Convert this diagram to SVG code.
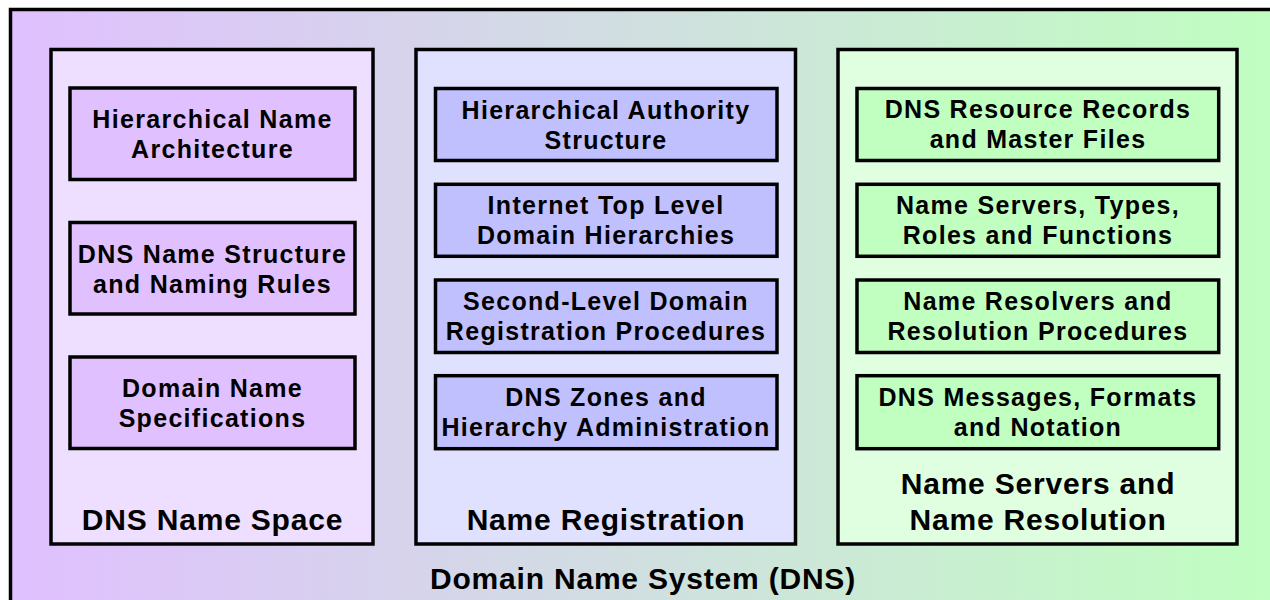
<svg xmlns="http://www.w3.org/2000/svg" width="1270" height="600" viewBox="0 0 1270 600">
  <defs>
    <linearGradient id="bg" x1="10" y1="0" x2="1290" y2="0" gradientUnits="userSpaceOnUse">
      <stop offset="0" stop-color="#e0c0ff"/>
      <stop offset="1" stop-color="#c0ffc0"/>
    </linearGradient>
    <style>
      .frame { stroke: #000; stroke-width: 3.5; }
      .box { stroke: #000; stroke-width: 3.5; }
      .c1 { fill: #eedeff; }
      .c2 { fill: #e0e0ff; }
      .c3 { fill: #e0ffe0; }
      .b1 { fill: #e0c0ff; }
      .b2 { fill: #c0c0ff; }
      .b3 { fill: #c0ffc0; }
      text { font-family: "Liberation Sans", Arial, Helvetica, sans-serif; font-weight: bold; fill: #000; text-anchor: middle; }
      .t { font-size: 25px; letter-spacing: 1.3px; }
      .h { font-size: 30px; letter-spacing: 0.8px; }
    </style>
  </defs>
  <rect x="0" y="0" width="1270" height="600" fill="#ffffff"/>
  <g id="dns">
    <rect x="10.5" y="9.5" width="1290" height="620" fill="url(#bg)" class="frame"/>
    <text class="h" x="643" y="589">Domain Name System (DNS)</text>
  </g>

  <g id="name-space">
    <rect x="51" y="49.5" width="322" height="494.5" class="frame c1"/>
    <text class="h" x="212.5" y="530">DNS Name Space</text>
  </g>
  <g id="hier-name-arch">
    <rect x="70" y="88" width="285" height="91.5" class="box b1"/>
    <text class="t" x="212.5" y="128">Hierarchical Name</text>
    <text class="t" x="212.5" y="158">Architecture</text>
  </g>
  <g id="name-structure">
    <rect x="70" y="222.5" width="285" height="91.5" class="box b1"/>
    <text class="t" x="212.5" y="262.5">DNS Name Structure</text>
    <text class="t" x="212.5" y="292.5">and Naming Rules</text>
  </g>
  <g id="domain-name-spec">
    <rect x="70" y="357" width="285" height="91.5" class="box b1"/>
    <text class="t" x="212.5" y="397">Domain Name</text>
    <text class="t" x="212.5" y="427">Specifications</text>
  </g>

  <g id="name-registration">
    <rect x="416" y="49.5" width="379.5" height="494.5" class="frame c2"/>
    <text class="h" x="606" y="530">Name Registration</text>
  </g>
  <g id="hier-authority">
    <rect x="435.5" y="88.5" width="341.5" height="72" class="box b2"/>
    <text class="t" x="606" y="118.5">Hierarchical Authority</text>
    <text class="t" x="606" y="148.5">Structure</text>
  </g>
  <g id="tld-hier">
    <rect x="435.5" y="184.3" width="341.5" height="72" class="box b2"/>
    <text class="t" x="606" y="214.3">Internet Top Level</text>
    <text class="t" x="606" y="244.3">Domain Hierarchies</text>
  </g>
  <g id="sld-reg">
    <rect x="435.5" y="280" width="341.5" height="72.5" class="box b2"/>
    <text class="t" x="606" y="310">Second-Level Domain</text>
    <text class="t" x="606" y="340">Registration Procedures</text>
  </g>
  <g id="zones-admin">
    <rect x="435.5" y="375.7" width="341.5" height="73" class="box b2"/>
    <text class="t" x="606" y="406">DNS Zones and</text>
    <text class="t" x="606" y="436">Hierarchy Administration</text>
  </g>

  <g id="name-servers-resolution">
    <rect x="838" y="49.5" width="399" height="494.5" class="frame c3"/>
    <text class="h" x="1038" y="494">Name Servers and</text>
    <text class="h" x="1038" y="530">Name Resolution</text>
  </g>
  <g id="resource-records">
    <rect x="857" y="88.5" width="361.7" height="72" class="box b3"/>
    <text class="t" x="1038" y="118">DNS Resource Records</text>
    <text class="t" x="1038" y="148">and Master Files</text>
  </g>
  <g id="name-servers">
    <rect x="857" y="184.3" width="361.7" height="72" class="box b3"/>
    <text class="t" x="1038" y="214.3">Name Servers, Types,</text>
    <text class="t" x="1038" y="244.3">Roles and Functions</text>
  </g>
  <g id="resolvers">
    <rect x="857" y="280" width="361.7" height="72.5" class="box b3"/>
    <text class="t" x="1038" y="310">Name Resolvers and</text>
    <text class="t" x="1038" y="340">Resolution Procedures</text>
  </g>
  <g id="messages">
    <rect x="857" y="375.7" width="361.7" height="73" class="box b3"/>
    <text class="t" x="1038" y="406">DNS Messages, Formats</text>
    <text class="t" x="1038" y="436">and Notation</text>
  </g>

  <g id="connectors"></g>
</svg>
